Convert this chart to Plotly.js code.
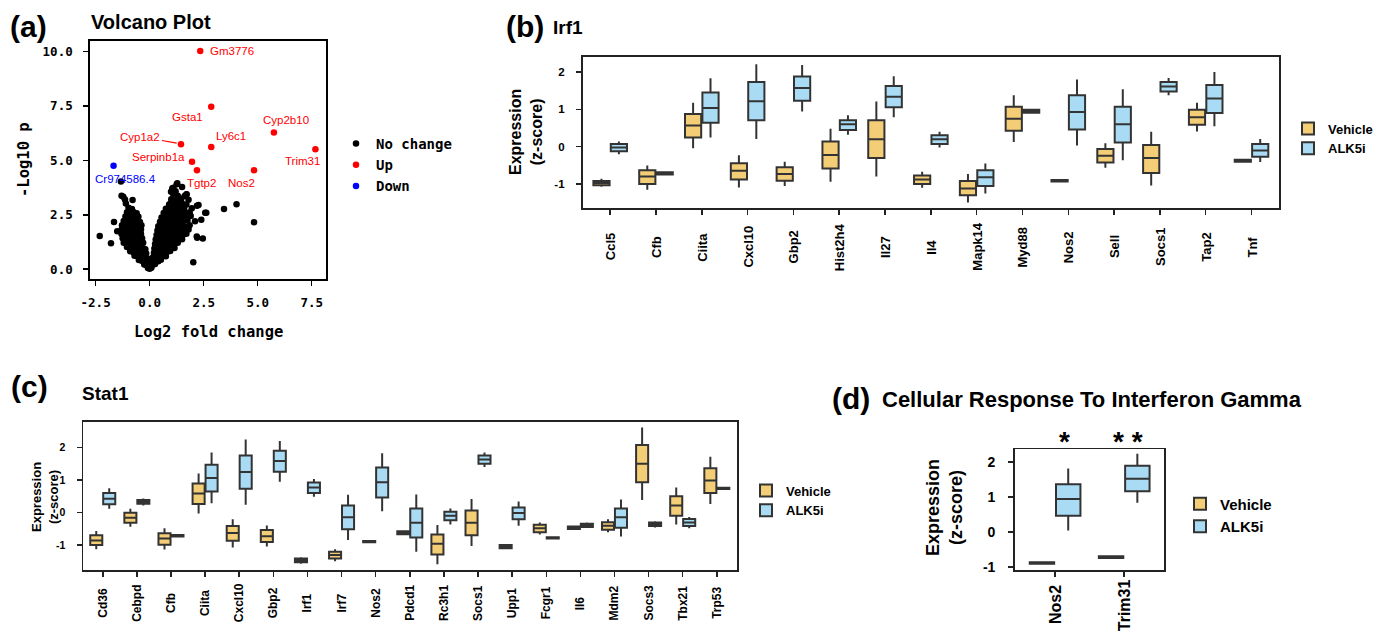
<!DOCTYPE html>
<html><head><meta charset="utf-8">
<script src="https://cdn.plot.ly/plotly-3.0.1.min.js"></script>
<style>html,body{margin:0;padding:0;background:#fff}#chart{width:1383px;height:637px}</style>
</head><body><div id="chart"></div>
<script>
const W = 1383, H = 637;

// ---------- (a) Volcano data ----------
const noChangePoints = [
[-0.08,0.06],[0,0.02],[0.08,0.07],
[-0.25,0.22],[-0.15,0.18],[-0.05,0.12],[0.05,0.15],[0.15,0.2],[0.25,0.24],
[-0.5,0.42],[-0.35,0.38],[-0.2,0.4],[-0.08,0.3],[0.1,0.33],[0.25,0.41],[0.4,0.37],[0.52,0.44],
[-0.7,0.62],[-0.55,0.58],[-0.4,0.63],[-0.25,0.57],[-0.12,0.5],[0.15,0.55],[0.3,0.61],[0.45,0.58],[0.6,0.63],[0.75,0.6],
[-0.9,0.82],[-0.75,0.78],[-0.6,0.83],[-0.45,0.79],[-0.3,0.81],[-0.16,0.72],[0.2,0.76],[0.35,0.82],[0.5,0.78],[0.65,0.83],[0.8,0.79],[0.95,0.84],
[-1.05,1.02],[-0.9,0.97],[-0.75,1.03],[-0.6,0.98],[-0.45,1.01],[-0.3,0.96],[-0.2,0.92],[0.22,0.95],[0.38,1.02],[0.55,0.98],[0.7,1.03],[0.85,0.99],[1.0,1.02],[1.15,0.98],
[-1.2,1.22],[-1.05,1.18],[-0.9,1.23],[-0.75,1.19],[-0.6,1.21],[-0.45,1.17],[-0.3,1.22],[0.25,1.16],[0.4,1.22],[0.55,1.18],[0.7,1.23],[0.85,1.19],[1.0,1.21],[1.15,1.17],[1.3,1.22],
[-1.25,1.42],[-1.1,1.38],[-0.95,1.43],[-0.8,1.39],[-0.65,1.41],[-0.5,1.37],[-0.35,1.42],[0.28,1.36],[0.43,1.42],[0.6,1.38],[0.75,1.43],[0.9,1.39],[1.05,1.41],[1.2,1.37],[1.35,1.42],[1.5,1.38],
[-1.3,1.62],[-1.15,1.58],[-1.0,1.63],[-0.85,1.59],[-0.7,1.61],[-0.55,1.57],[-0.4,1.62],[0.32,1.57],[0.47,1.62],[0.62,1.58],[0.78,1.63],[0.93,1.59],[1.08,1.61],[1.23,1.57],[1.4,1.62],[1.55,1.58],[1.7,1.63],
[-1.3,1.82],[-1.15,1.78],[-1.0,1.83],[-0.85,1.79],[-0.7,1.81],[-0.55,1.77],[-0.4,1.82],[0.36,1.78],[0.5,1.83],[0.65,1.79],[0.8,1.81],[0.95,1.77],[1.1,1.82],[1.25,1.78],[1.4,1.83],[1.6,1.79],[1.8,1.82],
[-1.28,2.02],[-1.12,1.98],[-0.97,2.03],[-0.82,1.99],[-0.67,2.01],[-0.5,1.97],[-0.38,2.02],[0.4,1.97],[0.55,2.03],[0.7,1.99],[0.85,2.02],[1.0,1.98],[1.15,2.03],[1.3,1.99],[1.45,2.01],[1.6,1.97],[1.85,2.02],
[-1.2,2.22],[-1.05,2.18],[-0.9,2.23],[-0.75,2.19],[-0.6,2.21],[-0.45,2.17],[0.48,2.18],[0.62,2.23],[0.78,2.19],[0.93,2.22],[1.08,2.18],[1.23,2.23],[1.4,2.19],[1.55,2.21],[1.75,2.24],
[-1.12,2.42],[-0.97,2.38],[-0.82,2.43],[-0.67,2.39],[-0.52,2.41],[0.55,2.38],[0.7,2.43],[0.85,2.39],[1.0,2.42],[1.15,2.38],[1.3,2.43],[1.5,2.39],[1.7,2.41],[1.9,2.45],
[-1.05,2.62],[-0.9,2.58],[-0.75,2.63],[-0.6,2.57],[0.65,2.58],[0.8,2.63],[0.95,2.59],[1.1,2.62],[1.25,2.58],[1.45,2.63],[1.65,2.59],[1.85,2.62],
[-0.98,2.82],[-0.82,2.77],[0.75,2.78],[0.9,2.83],[1.05,2.79],[1.2,2.82],[1.4,2.78],[1.6,2.83],[1.95,2.8],
[-1.1,3.02],[0.9,2.98],[1.05,3.03],[1.25,2.99],[1.5,3.02],[1.7,2.98],
[-0.79,3.18],[1.0,3.22],[1.25,3.18],[1.45,3.23],[1.8,3.19],
[-1.3,3.38],[1.1,3.42],[1.3,3.38],[1.7,3.43],
[1.05,3.62],[1.2,3.58],[1.1,3.74],[1.5,3.78],[1.25,3.9],
[-2.31,1.53],[-1.79,1.19],[-1.65,2.17],[-1.5,1.75],[-1.33,4.03],[-1.22,3.33],[-1.14,3.2],
[2.02,0.32],[2.18,1.5],[2.46,1.41],[2.2,1.45],[2.62,2.6],[2.39,2.27],[2.19,2.92],[2.26,2.95],
[3.44,2.77],[4.02,2.99],[4.83,2.16],[1.28,3.95],[1.05,3.72],[0.99,3.56],[1.71,3.44],[1.46,3.24],
[0.97,3.03],[2.1,2.2],[1.62,3.36],[2.57,2.6]
];
const noChangeX = noChangePoints.map(p => p[0]);
const noChangeY = noChangePoints.map(p => p[1]);

const upGenes = ['Gm3776','Gsta1','Cyp2b10','Ly6c1','Cyp1a2','Serpinb1a','Tgtp2','Nos2','Trim31'];
const upX = [2.34, 2.85, 5.75, 2.85, 1.45, 1.96, 2.19, 4.83, 7.67];
const upY = [10.03, 7.47, 6.28, 5.62, 5.74, 4.94, 4.55, 4.55, 5.51];
const downGenes = ['Cr974586.4'];
const downX = [-1.67];
const downY = [4.75];

const volcanoXTicks = [-2.5, 0, 2.5, 5, 7.5];
const volcanoXTickLabels = ['-2.5','0.0','2.5','5.0','7.5'];
const volcanoYTicks = [0, 2.5, 5, 7.5, 10];
const volcanoYTickLabels = ['0.0','2.5','5.0','7.5','10.0'];

// ---------- (b) Irf1 ----------
const irf1Genes = ['Ccl5','Cfb','Ciita','Cxcl10','Gbp2','Hist2h4','Il27','Il4','Mapk14','Myd88','Nos2','Sell','Socs1','Tap2','Tnf'];
const irf1VehLow  = [-1.07,-1.15,-0.04,-1.09,-1.05,-0.94,-0.80,-1.10,-1.49,0.125,-0.94,-0.56,-1.04,0.41,-0.42];
const irf1VehQ1   = [-1.03,-1.00, 0.25,-0.88,-0.91,-0.58,-0.30,-1.00,-1.30,0.43,-0.93,-0.42,-0.70,0.59,-0.40];
const irf1VehMed  = [-0.97,-0.80, 0.57,-0.64,-0.73,-0.22, 0.20,-0.88,-1.12,0.75,-0.91,-0.24,-0.30,0.79,-0.37];
const irf1VehQ3   = [-0.92,-0.63, 0.875,-0.44,-0.55,0.14, 0.71,-0.77,-0.92,1.07,-0.89,-0.06,0.045,0.99,-0.35];
const irf1VehHigh = [-0.86,-0.50, 1.18,-0.23,-0.40, 0.48, 1.21,-0.67,-0.73,1.375,-0.875,0.09,0.40,1.18,-0.33];
const irf1AlkLow  = [-0.20,-0.75,0.25,0.21,0.94,0.32,0.79,-0.02,-1.25,0.89,0.03,-0.36,1.38,0.55,-0.41];
const irf1AlkQ1   = [-0.12,-0.74,0.64,0.71,1.23,0.45,1.06,0.07,-1.05,0.91,0.46,0.11,1.48,0.90,-0.27];
const irf1AlkMed  = [-0.02,-0.71,1.04,1.22,1.57,0.60,1.34,0.20,-0.82,0.955,0.93,0.60,1.61,1.29,-0.10];
const irf1AlkQ3   = [0.07,-0.68,1.45,1.73,1.88,0.71,1.625,0.31,-0.63,0.99,1.375,1.07,1.73,1.65,0.07];
const irf1AlkHigh = [0.14,-0.67,1.83,2.21,2.19,0.84,1.89,0.40,-0.45,1.00,1.80,1.54,1.84,2.00,0.21];

// ---------- (c) Stat1 ----------
const stat1Genes = ['Cd36','Cebpd','Cfb','Ciita','Cxcl10','Gbp2','Irf1','Irf7','Nos2','Pdcd1','Rc3h1','Socs1','Upp1','Fcgr1','Il6','Mdm2','Socs3','Tbx21','Trp53'];
const stat1VehLow  = [-1.13,-0.44,-1.14,-0.03,-1.08,-1.05,-1.58,-1.50,-0.93,-0.70,-1.59,-1.03,-1.13,-0.68,-0.54,-0.61,0.38,-0.37,0.26];
const stat1VehQ1   = [-1.00,-0.32,-0.99,0.26,-0.87,-0.91,-1.53,-1.42,-0.92,-0.67,-1.29,-0.70,-1.10,-0.61,-0.51,-0.53,0.93,-0.10,0.60];
const stat1VehMed  = [-0.86,-0.16,-0.80,0.58,-0.63,-0.73,-1.47,-1.31,-0.90,-0.62,-0.96,-0.32,-1.05,-0.49,-0.47,-0.41,1.50,0.21,0.98];
const stat1VehQ3   = [-0.70,-0.01,-0.64,0.89,-0.42,-0.54,-1.42,-1.21,-0.88,-0.58,-0.68,0.06,-1.00,-0.38,-0.43,-0.30,2.07,0.50,1.36];
const stat1VehHigh = [-0.57,0.11,-0.49,1.20,-0.21,-0.40,-1.38,-1.13,-0.87,-0.55,-0.39,0.41,-0.98,-0.31,-0.40,-0.21,2.61,0.77,1.71];
const stat1AlkLow  = [0.11,0.21,-0.75,0.28,0.24,0.94,0.48,-0.85,0.04,-1.21,-0.37,1.40,-0.41,-0.81,-0.48,-0.74,-0.46,-0.49,0.71];
const stat1AlkQ1   = [0.25,0.27,-0.74,0.64,0.73,1.25,0.60,-0.52,0.46,-0.77,-0.24,1.50,-0.21,-0.80,-0.45,-0.47,-0.42,-0.42,0.72];
const stat1AlkMed  = [0.42,0.33,-0.71,1.06,1.24,1.58,0.77,-0.15,0.93,-0.32,-0.10,1.63,-0.02,-0.78,-0.40,-0.15,-0.36,-0.31,0.74];
const stat1AlkQ3   = [0.60,0.38,-0.69,1.47,1.75,1.90,0.92,0.21,1.38,0.12,0.02,1.75,0.15,-0.76,-0.35,0.12,-0.31,-0.20,0.76];
const stat1AlkHigh = [0.74,0.43,-0.68,1.84,2.24,2.20,1.03,0.54,1.82,0.55,0.12,1.84,0.34,-0.75,-0.31,0.40,-0.27,-0.14,0.77];

// ---------- (d) Cellular Response To Interferon Gamma ----------
const ifngGenes = ['Nos2','Trim31'];
const ifngVehLow  = [-0.92,-0.76];
const ifngVehQ1   = [-0.91,-0.75];
const ifngVehMed  = [-0.89,-0.72];
const ifngVehQ3   = [-0.87,-0.70];
const ifngVehHigh = [-0.85,-0.69];
const ifngAlkLow  = [0.04,0.83];
const ifngAlkQ1   = [0.46,1.16];
const ifngAlkMed  = [0.94,1.52];
const ifngAlkQ3   = [1.36,1.89];
const ifngAlkHigh = [1.81,2.23];
const ifngSignif  = ['*','* *'];

const boxYTicks = [-1, 0, 1, 2];
const boxYTickLabels = ['-1','0','1','2'];

// ---------- styling ----------
const SANS = "Arial, 'Liberation Sans', sans-serif";
const MONO = "'DejaVu Sans Mono', 'Liberation Mono', monospace";
const VEH = '#F4CD77', ALK = '#A9DCF4', EDGE = '#333333';
const px = v => v / W;
const py = v => 1 - v / H;

const traces = [];
traces.push({type:'scatter', mode:'markers', name:'No change', x:noChangeX, y:noChangeY,
  marker:{color:'#000', size:6.5}, xaxis:'x', yaxis:'y', legend:'legend', hoverinfo:'skip'});
traces.push({type:'scatter', mode:'markers', name:'Up', x:upX, y:upY,
  marker:{color:'#FF0000', size:6.5}, xaxis:'x', yaxis:'y', legend:'legend', hoverinfo:'skip'});
traces.push({type:'scatter', mode:'markers', name:'Down', x:downX, y:downY,
  marker:{color:'#0000FF', size:6.5}, xaxis:'x', yaxis:'y', legend:'legend', hoverinfo:'skip'});

function boxTrace(name, genes, lo, q1, med, q3, hi, color, xa, ya, leg) {
  return {type:'box', name:name, x:genes, lowerfence:lo, q1:q1, median:med, q3:q3, upperfence:hi,
    fillcolor:color, line:{color:EDGE, width:2}, whiskerwidth:0, boxpoints:false,
    alignmentgroup:'grp_' + xa, offsetgroup:name,
    xaxis:xa, yaxis:ya, legend:leg, hoverinfo:'skip'};
}
traces.push(boxTrace('Vehicle', irf1Genes, irf1VehLow, irf1VehQ1, irf1VehMed, irf1VehQ3, irf1VehHigh, VEH, 'x2','y2','legend2'));
traces.push(boxTrace('ALK5i', irf1Genes, irf1AlkLow, irf1AlkQ1, irf1AlkMed, irf1AlkQ3, irf1AlkHigh, ALK, 'x2','y2','legend2'));
traces.push(boxTrace('Vehicle', stat1Genes, stat1VehLow, stat1VehQ1, stat1VehMed, stat1VehQ3, stat1VehHigh, VEH, 'x3','y3','legend3'));
traces.push(boxTrace('ALK5i', stat1Genes, stat1AlkLow, stat1AlkQ1, stat1AlkMed, stat1AlkQ3, stat1AlkHigh, ALK, 'x3','y3','legend3'));
traces.push(boxTrace('Vehicle', ifngGenes, ifngVehLow, ifngVehQ1, ifngVehMed, ifngVehQ3, ifngVehHigh, VEH, 'x4','y4','legend4'));
traces.push(boxTrace('ALK5i', ifngGenes, ifngAlkLow, ifngAlkQ1, ifngAlkMed, ifngAlkQ3, ifngAlkHigh, ALK, 'x4','y4','legend4'));

const frameAxis = (extra) => Object.assign({showline:true, mirror:true, linecolor:'#222', linewidth:1.8,
  ticks:'outside', ticklen:5, tickwidth:1.5, tickcolor:'#222', showgrid:false, zeroline:false, fixedrange:true}, extra);

const annotations = [];
function txt(text, x, y, size, opts) {
  annotations.push(Object.assign({text:text, x:px(x), y:py(y), xref:'paper', yref:'paper', showarrow:false,
    xanchor:'center', yanchor:'middle', font:{family:SANS, size:size, color:'#000', weight:'bold'}}, opts || {}));
}
// panel letters & titles
txt('(a)', 28, 27, 30);
txt('Volcano Plot', 89, 22.5, 20, {xanchor:'left'});
txt('(b)', 525, 27, 30);
txt('Irf1', 551, 28, 19, {xanchor:'left'});
txt('(c)', 29, 386, 30);
txt('Stat1', 80, 393, 19, {xanchor:'left'});
txt('(d)', 851, 398, 30);
txt('Cellular Response To Interferon Gamma', 880, 399, 22, {xanchor:'left'});
// axis titles
txt('Log2 fold change', 208, 332, 15.5, {font:{family:MONO, size:15.5, color:'#000', weight:'bold'}});
txt('-Log10 p', 24, 160, 15.5, {textangle:-90, font:{family:MONO, size:15.5, color:'#000', weight:'bold'}});
txt('Expression<br>(z-score)', 526, 132, 16, {textangle:-90});
txt('Expression<br>(z-score)', 45, 497, 13, {textangle:-90});
txt('Expression<br>(z-score)', 944, 508, 18, {textangle:-90});

// rotated category labels, centred
irf1Genes.forEach(g => annotations.push({text:g, x:g, y:py(247), xref:'x2', yref:'paper', showarrow:false,
  textangle:-90, xanchor:'center', yanchor:'middle', font:{family:SANS, size:13, color:'#000', weight:'bold'}}));
stat1Genes.forEach(g => annotations.push({text:g, x:g, y:py(603), xref:'x3', yref:'paper', showarrow:false,
  textangle:-90, xanchor:'center', yanchor:'middle', font:{family:SANS, size:12, color:'#000', weight:'bold'}}));
ifngGenes.forEach(g => annotations.push({text:g, x:g, y:py(605), xref:'x4', yref:'paper', showarrow:false,
  textangle:-90, xanchor:'center', yanchor:'middle', font:{family:SANS, size:16, color:'#000', weight:'bold'}}));
// significance marks above the ALK5i boxes
const signifX = [1064, 1128];
ifngSignif.forEach((s, i) => annotations.push({text:s, x:px(signifX[i]), y:py(441), xref:'paper', yref:'paper', showarrow:false,
  xanchor:'center', yanchor:'middle', font:{family:SANS, size:28, color:'#000', weight:'bold'}}));

// volcano gene labels
const LAB = {family:SANS, size:11.5, color:'#FF0000'};
const upLabelPos = {
  'Gm3776':[2.71,10.03,'left'], 'Gsta1':[1.77,6.98,'center'], 'Cyp2b10':[6.3,6.86,'center'],
  'Ly6c1':[3.76,6.14,'center'], 'Serpinb1a':[0.4,5.17,'center'], 'Tgtp2':[2.38,3.98,'center'],
  'Nos2':[4.27,3.98,'center'], 'Trim31':[7.05,4.98,'center']
};
upGenes.forEach((g, i) => {
  if (g === 'Cyp1a2') {
    annotations.push({text:g, x:upX[i] - 0.06, y:upY[i] + 0.03, ax:-0.43, ay:6.09, axref:'x', ayref:'y',
      xref:'x', yref:'y', showarrow:true, arrowhead:0, arrowwidth:1.2, arrowcolor:'#FF0000', standoff:3, font:LAB});
  } else {
    const p = upLabelPos[g];
    annotations.push({text:g, x:p[0], y:p[1], xref:'x', yref:'y', showarrow:false, xanchor:p[2], yanchor:'middle', font:LAB});
  }
});
downGenes.forEach(g => annotations.push({text:g, x:-1.11, y:4.15, xref:'x', yref:'y', showarrow:false,
  xanchor:'center', yanchor:'middle', font:{family:SANS, size:11.5, color:'#0000FF'}}));

const legBase = (x, y, size, fam) => ({x:px(x), y:py(y), xanchor:'left', yanchor:'middle', xref:'paper', yref:'paper',
  bgcolor:'rgba(0,0,0,0)', borderwidth:0, tracegroupgap:0, font:{family:fam, size:size, color:'#000', weight:'bold'}});

const layout = {
  width:W, height:H, autosize:false, margin:{l:0, r:0, t:0, b:0},
  paper_bgcolor:'#fff', plot_bgcolor:'#fff', showlegend:true,
  boxmode:'group', boxgap:0.24, boxgroupgap:0.07,
  xaxis: frameAxis({domain:[px(90), px(326)], anchor:'y', range:[-2.76, 8.16], tickvals:volcanoXTicks, ticktext:volcanoXTickLabels,
    linecolor:'#000', tickcolor:'#000', ticklabelstandoff:6, tickfont:{family:MONO, size:12.5, color:'#000', weight:'bold'}}),
  yaxis: frameAxis({domain:[py(279), py(41)], anchor:'x', range:[-0.45, 10.49], tickvals:volcanoYTicks, ticktext:volcanoYTickLabels,
    linecolor:'#000', tickcolor:'#000', ticklabelstandoff:8, tickfont:{family:MONO, size:12.5, color:'#000', weight:'bold'}}),
  xaxis2: frameAxis({domain:[px(582.7), px(1279)], anchor:'y2', type:'category', range:[-0.6, 14.6], showticklabels:false}),
  yaxis2: frameAxis({domain:[py(208), py(56.7)], anchor:'x2', range:[-1.64, 2.41], tickvals:boxYTicks, ticktext:boxYTickLabels,
    ticklabelstandoff:9, tickfont:{family:SANS, size:11.5, color:'#000', weight:'bold'}}),
  xaxis3: frameAxis({domain:[px(83.3), px(737.3)], anchor:'y3', type:'category', range:[-0.57, 18.6], showticklabels:false}),
  yaxis3: frameAxis({domain:[py(570), py(421.7)], anchor:'x3', range:[-1.77, 2.79], tickvals:boxYTicks, ticktext:boxYTickLabels,
    ticklabelstandoff:9, tickfont:{family:SANS, size:10.5, color:'#000', weight:'bold'}}),
  xaxis4: frameAxis({domain:[px(1015), px(1164.3)], anchor:'y4', type:'category', range:[-0.58, 1.58], showticklabels:false}),
  yaxis4: frameAxis({domain:[py(570), py(449.3)], anchor:'x4', range:[-1.09, 2.36], tickvals:boxYTicks, ticktext:boxYTickLabels,
    ticklabelstandoff:10, tickfont:{family:SANS, size:14, color:'#000', weight:'bold'}}),
  legend: legBase(336, 165, 14, MONO),
  legend2: legBase(1288, 138.5, 13, SANS),
  legend3: legBase(746, 500.5, 13, SANS),
  legend4: legBase(1180, 515, 15, SANS),
  annotations: annotations
};

Plotly.newPlot('chart', traces, layout, {staticPlot:true, displayModeBar:false});
</script>
</body></html>
